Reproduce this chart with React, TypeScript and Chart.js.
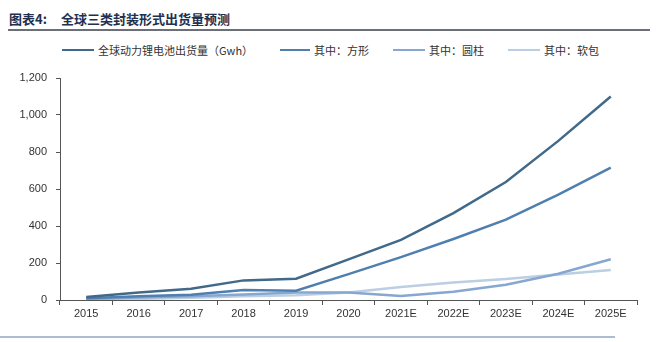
import React, { useEffect, useRef } from "react";
import { Chart, registerables } from "chart.js";

Chart.register(...registerables);

const categories = ["2015", "2016", "2017", "2018", "2019", "2020", "2021E", "2022E", "2023E", "2024E", "2025E"];
const totalShipments = [16, 40, 61, 106, 115, 220, 325, 470, 638, 860, 1100];
const prismatic = [10, 20, 28, 54, 50, 140, 232, 330, 434, 570, 715];
const cylindrical = [5, 14, 20, 30, 40, 40, 22, 45, 82, 142, 220];
const pouch = [2, 6, 12, 20, 26, 40, 70, 95, 114, 138, 162];
const seriesNames = ["全球动力锂电池出货量（Gwh）", "其中：方形", "其中：圆柱", "其中：软包"];
const yTicks = [0, 200, 400, 600, 800, 1000, 1200];

const colors = ["#41698a", "#4f7fae", "#86a7cf", "#bccee3"];
const legendX = [62, 280, 393, 508];
const legendLineW = [32, 30, 32, 32];

export default function App() {
  const ref = useRef<HTMLCanvasElement>(null);

  useEffect(() => {
    document.body.style.margin = "0";
    const ctx = ref.current!;
    const data = [totalShipments, prismatic, cylindrical, pouch];
    const chart = new Chart(ctx, {
      type: "line",
      data: {
        labels: categories,
        datasets: data.map((d, i) => ({
          label: seriesNames[i],
          data: d,
          borderColor: colors[i],
          backgroundColor: colors[i],
          borderWidth: 2.5,
          pointRadius: 0,
          tension: 0,
          order: i === 0 ? 0 : i,
        })),
      },
      options: {
        animation: false,
        responsive: false,
        maintainAspectRatio: false,
        layout: { padding: { top: 18, right: 22, left: 0, bottom: 0 } },
        plugins: { legend: { display: false }, tooltip: { enabled: false } },
        scales: {
          x: {
            offset: true,
            grid: {
              display: true,
              drawOnChartArea: false,
              drawTicks: true,
              tickLength: 5,
              color: "#555",
              offset: true,
            },
            border: { display: true, color: "#555", width: 1 },
            ticks: {
              color: "#333",
              font: { family: "'Liberation Sans', Arial, sans-serif", size: 11 },
              padding: 2,
              maxRotation: 0,
              autoSkip: false,
            },
            afterFit: (s: any) => {
              s.height = 30;
            },
          },
          y: {
            min: 0,
            max: 1200,
            afterBuildTicks: (s: any) => {
              s.ticks = yTicks.map((v) => ({ value: v }));
            },
            grid: {
              display: true,
              drawOnChartArea: false,
              drawTicks: true,
              tickLength: 4,
              color: "#555",
            },
            border: { display: true, color: "#555", width: 1 },
            ticks: {
              color: "#333",
              font: { family: "'Liberation Sans', Arial, sans-serif", size: 11 },
              padding: 9,
              callback: (v: any) => Number(v).toLocaleString("en-US"),
            },
            afterFit: (s: any) => {
              s.width = 60;
            },
          },
        },
      },
    });
    return () => chart.destroy();
  }, []);

  const cjk = "'Noto Sans CJK SC', 'Liberation Sans', sans-serif";

  return (
    <div style={{ position: "fixed", left: 0, top: 0, width: 659, height: 342, background: "#fff", overflow: "hidden" }}>
      <div
        style={{
          position: "absolute",
          left: 9,
          top: 9,
          fontFamily: cjk,
          fontWeight: 700,
          fontSize: 13,
          color: "#22304f",
          whiteSpace: "nowrap",
          lineHeight: "20px",
        }}
      >
        <span>图表4:</span>
        <span style={{ marginLeft: 14 }}>全球三类封装形式出货量预测</span>
      </div>
      <div style={{ position: "absolute", left: 8, top: 29, width: 642, height: 2, background: "#6b6f78" }} />
      {seriesNames.map((n, i) => (
        <div
          key={n}
          style={{
            position: "absolute",
            left: legendX[i],
            top: 41,
            height: 18,
            display: "flex",
            alignItems: "center",
            whiteSpace: "nowrap",
            fontFamily: cjk,
            fontSize: 11,
            color: "#333",
          }}
        >
          <span style={{ display: "inline-block", width: legendLineW[i], height: 2.5, background: colors[i], marginRight: 4 }} />
          <span>{n}</span>
        </div>
      ))}
      <canvas ref={ref} width={659} height={270} style={{ position: "absolute", left: 0, top: 60, width: 659, height: 270 }} />
      <div style={{ position: "absolute", left: 0, top: 336, width: 615, height: 1.5, background: "#aebbd0" }} />
    </div>
  );
}
